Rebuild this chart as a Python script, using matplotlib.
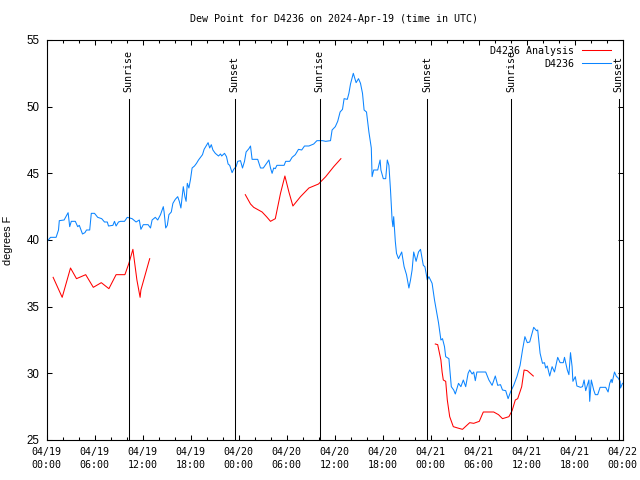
import matplotlib
matplotlib.use("Agg")
import matplotlib.pyplot as plt
import numpy as np

title = "Dew Point for D4236 on 2024-Apr-19 (time in UTC)"
ylabel = "degrees F"

obs_hours = [0.08, 0.5, 1.2, 1.5, 1.6, 2.2, 2.7, 2.9, 3.1, 3.6, 3.9, 4.1, 4.5, 4.8, 5.0, 5.4, 5.6, 6.0,
             6.4, 6.9, 7.25, 7.6, 7.75, 8.3, 8.5, 8.7, 9.0, 9.25, 9.75, 10.1, 10.7, 11.2, 11.6, 11.8,
             12.1, 12.7, 13.0, 13.2, 13.6, 13.9, 14.25, 14.6, 14.7, 14.9, 15.1, 15.3, 15.6, 15.8, 16.1,
             16.4, 16.6, 16.8, 17.1, 17.3, 17.45, 17.6, 17.8, 18.0, 18.2, 18.5, 18.75, 19.0, 19.25,
             19.5, 19.7, 19.9, 20.2, 20.4, 20.6, 20.8, 21.1, 21.3, 21.5, 21.75, 21.9, 22.25, 22.5,
             22.7, 22.9, 23.2, 23.4, 23.7, 23.9, 24.25, 24.5, 24.75, 24.95, 25.3, 25.5, 25.7, 26.4,
             26.75, 27.1, 27.5, 27.8, 28.0, 28.2, 28.4, 28.6, 28.8, 29.7, 29.9, 30.4, 30.7, 31.1,
             31.5, 31.9, 32.25, 32.8, 33.0, 33.4, 33.8, 34.5, 34.9, 35.5, 35.7, 36.1, 36.4, 36.7,
             37.0, 37.2, 37.6, 37.8, 38.0, 38.35, 38.7, 39.0, 39.25, 39.5, 39.7, 40.0, 40.3, 40.6,
             40.7, 40.9, 41.4, 41.7, 41.8, 42.1, 42.4, 42.6, 42.8, 43.0, 43.2, 43.3, 43.4, 43.6,
             43.75, 44.0, 44.4, 44.7, 45.0, 45.3, 45.5, 45.7, 45.9, 46.2, 46.5, 46.75, 47.1, 47.3,
             47.6, 47.8, 48.2, 48.5, 48.8, 49.0, 49.3, 49.5, 49.75, 49.9, 50.3, 50.6, 50.9, 51.1,
             51.5, 51.8, 52.1, 52.4, 52.7, 52.9, 53.2, 53.4, 53.6, 53.8, 54.9, 55.3, 55.7, 56.1,
             56.4, 56.75, 57.0, 57.4, 57.7, 58.0, 58.4, 58.8, 59.2, 59.5, 59.8, 60.1, 60.4, 60.7,
             60.9, 61.25, 61.4, 61.7, 62.0, 62.25, 62.4, 62.6, 62.9, 63.2, 63.5, 63.75, 63.9, 64.2,
             64.6, 64.75, 65.1, 65.3, 65.5, 65.7, 65.8, 66.1, 66.3, 66.75, 67.0, 67.2, 67.4, 67.7,
             67.8, 67.9, 68.1, 68.4, 68.6, 68.9, 69.2, 69.9, 70.2, 70.4, 70.6, 70.7, 71.0, 71.25,
             71.4, 71.7, 71.75, 72.0]
obs_values = [39.9, 40.2, 40.2, 40.75, 41.45, 41.5, 42.05, 41.0, 41.4, 41.4, 41.0, 41.1, 40.45, 40.55,
              40.75, 40.75, 42.0, 42.0, 41.7, 41.6, 41.35, 41.35, 41.05, 41.1, 41.4, 41.05, 41.35,
              41.4, 41.4, 41.7, 41.6, 41.35, 41.5, 40.8, 41.15, 41.15, 40.9, 41.5, 41.7, 41.5, 41.9,
              42.5, 42.1, 40.9, 41.1, 41.9, 42.1, 42.75, 43.05, 43.25, 42.9, 42.4, 44.0, 43.25, 42.9,
              44.25, 43.9, 44.55, 45.4, 45.55, 45.75, 46.0, 46.2, 46.4, 46.8, 47.0, 47.3, 46.9, 47.15,
              46.75, 46.5, 46.4, 46.3, 46.45, 46.3, 46.5, 46.25, 45.7, 45.6, 45.05, 45.3, 45.5, 45.9,
              45.95, 45.4, 45.9, 46.6, 46.85, 47.05, 46.05, 46.05, 45.4, 45.4, 45.75, 46.0, 45.4,
              45.0, 45.4, 45.35, 45.6, 45.6, 45.9, 45.9, 46.2, 46.4, 46.8, 46.75, 47.05, 47.05, 47.1,
              47.2, 47.45, 47.45, 47.4, 47.45, 48.25, 48.5, 48.9, 49.6, 49.8, 50.6, 50.55, 51.0,
              51.7, 52.5, 51.8, 52.1, 51.75, 51.0, 49.75, 49.6, 48.1, 46.9, 44.75, 45.25, 45.25,
              46.0, 45.25, 44.6, 44.6, 46.0, 45.6, 43.75, 41.5, 41.0, 41.75, 39.9, 39.0, 38.6, 39.1,
              38.0, 37.4, 36.4, 37.0, 37.75, 39.1, 38.4, 39.1, 39.3, 38.1, 38.0, 37.0, 37.25, 36.75,
              35.5, 34.5, 33.8, 32.5, 32.6, 32.0, 31.25, 31.1, 29.0, 28.75, 28.45, 29.25, 29.0, 29.5,
              29.0, 30.0, 30.25, 29.95, 30.1, 29.45, 30.1, 30.1, 29.5, 29.1, 29.8, 29.1, 29.15,
              28.75, 28.7, 28.1, 28.6, 29.1, 29.75, 30.6, 31.75, 32.75, 32.3, 32.35, 33.0, 33.45,
              33.2, 33.25, 31.5, 30.75, 30.8, 30.4, 30.55, 29.8, 30.5, 30.1, 30.8, 31.2, 30.8, 30.8,
              31.2, 30.25, 29.9, 31.55, 30.5, 29.4, 29.75, 29.05, 28.95, 29.0, 29.5, 28.7, 29.3,
              29.5, 27.9, 29.5, 28.75, 28.4, 28.4, 28.95, 28.95, 28.6, 29.25, 29.55, 29.3, 30.1,
              29.75, 29.7, 29.4, 28.9, 29.25]

ana1_hours = [0.83, 1.96, 3.0, 3.75, 4.9, 5.85, 6.85, 7.8, 8.7, 9.8, 10.3, 10.8, 11.3, 11.7, 11.8, 12.9]
ana1_values = [37.2, 35.7, 37.9, 37.1, 37.4, 36.45, 36.8, 36.35, 37.4, 37.4, 38.25, 39.3, 37.0, 35.7, 36.25, 38.6]
ana2_hours = [24.85, 25.5, 25.9, 26.95, 27.5, 28.0, 28.6, 29.25, 29.8, 30.3, 30.8, 31.75, 32.8, 34.0, 34.9, 35.9, 36.8]
ana2_values = [43.4, 42.7, 42.45, 42.1, 41.75, 41.4, 41.6, 43.5, 44.8, 43.6, 42.55, 43.25, 43.9, 44.2, 44.75, 45.5, 46.1]
ana3_hours = [48.6, 48.9, 49.3, 49.45, 49.6, 49.9, 50.1, 50.4, 50.85, 51.4, 52.0, 52.9, 53.4, 54.1, 54.6,
              55.9, 56.5, 57.0, 57.8, 58.2, 58.6, 58.9, 59.4, 59.7, 60.1, 60.85]
ana3_values = [32.2, 32.15, 31.0, 30.1, 29.5, 29.4, 28.0, 26.75, 26.0, 25.9, 25.8, 26.3, 26.25, 26.4, 27.1,
               27.1, 26.9, 26.6, 26.75, 27.2, 28.0, 28.1, 29.0, 30.25, 30.2, 29.8]

sun_hours = [10.28, 23.54, 34.16, 47.59, 58.08, 71.5]
sun_labels = ["Sunrise", "Sunset", "Sunrise", "Sunset", "Sunrise", "Sunset"]

xtick_hours = [0, 6, 12, 18, 24, 30, 36, 42, 48, 54, 60, 66, 72]
xtick_labels = ["04/19\n00:00", "04/19\n06:00", "04/19\n12:00", "04/19\n18:00",
                "04/20\n00:00", "04/20\n06:00", "04/20\n12:00", "04/20\n18:00",
                "04/21\n00:00", "04/21\n06:00", "04/21\n12:00", "04/21\n18:00",
                "04/22\n00:00"]
ytick_values = [25, 30, 35, 40, 45, 50, 55]

MONO = "DejaVu Sans Mono"
SANS = "Liberation Sans"
FS = 7.2
RED = "#ff0000"
BLUE = "#0a84ff"
LW = 0.75

fig = plt.figure(figsize=(6.4, 4.8), dpi=100)
ax = fig.add_axes([46.5 / 640, 40 / 480, 576 / 640, 400 / 480])

ax.plot(ana1_hours, ana1_values, color=RED, lw=LW, label="D4236 Analysis")
ax.plot(ana2_hours, ana2_values, color=RED, lw=LW)
ax.plot(ana3_hours, ana3_values, color=RED, lw=LW)
ax.plot(obs_hours, obs_values, color=BLUE, lw=LW, label="D4236")

for h, lab in zip(sun_hours, sun_labels):
    ax.plot([h, h], [25, 50.55], color="black", lw=LW)
    ax.text(h, 51.1, lab, rotation=90, ha="center", va="bottom",
            fontsize=FS, family=MONO)

ax.set_xlim(0, 72)
ax.set_ylim(25, 55)
ax.set_xticks(xtick_hours)
ax.set_xticklabels(xtick_labels, family=MONO, fontsize=FS, linespacing=1.35)
ax.set_xticks(np.arange(0, 73, 2), minor=True)
ax.set_yticks(ytick_values)
ax.set_yticklabels([str(v) for v in ytick_values], family=SANS, fontsize=8.3)
ax.tick_params(axis="both", which="major", direction="in", length=3.6, width=0.75,
               top=True, right=True)
ax.tick_params(axis="x", which="minor", direction="in", length=2.0, width=0.75,
               top=True, bottom=True)
ax.tick_params(axis="x", which="major", pad=5)
ax.tick_params(axis="y", which="major", pad=5)
for s in ax.spines.values():
    s.set_linewidth(0.8)

ax.set_ylabel(ylabel, family=SANS, fontsize=7.8, labelpad=10)
fig.text(334.5 / 640, 1 - 19.5 / 480, title, ha="center", va="center",
         fontsize=FS, family=MONO)

leg = ax.legend(loc="upper right", bbox_to_anchor=(1 - 7 / 576, 1 - 1 / 400),
                frameon=False, markerfirst=False,
                handlelength=2.9, handletextpad=0.7, labelspacing=0.3,
                borderaxespad=0.3, borderpad=0.2,
                prop={"family": MONO, "size": FS})

fig.savefig("out.png", dpi=100)
